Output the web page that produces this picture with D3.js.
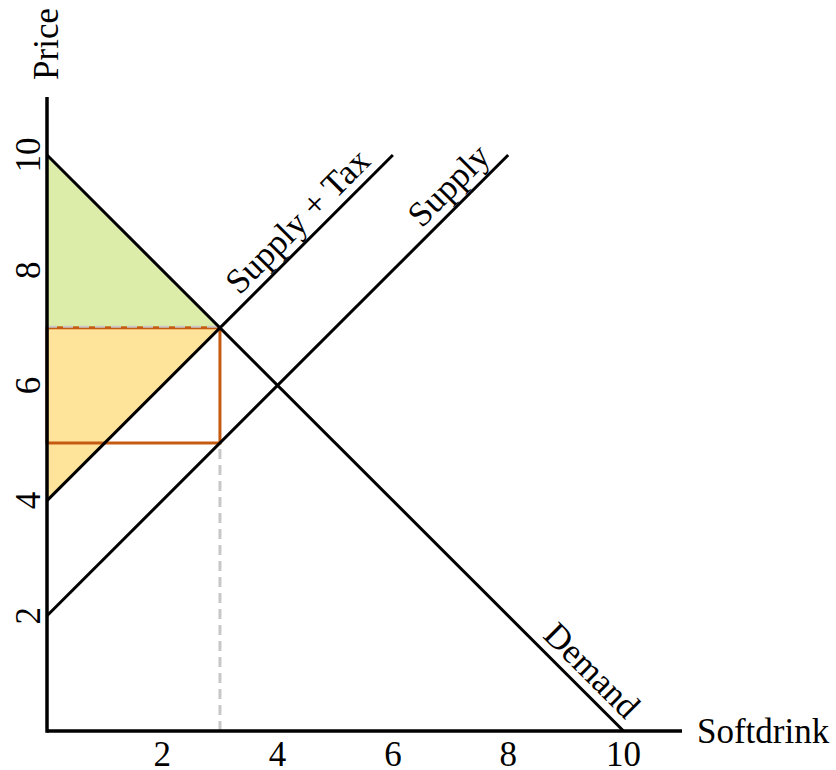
<!DOCTYPE html>
<html>
<head>
<meta charset="utf-8">
<script src="https://cdn.jsdelivr.net/npm/d3@7"></script>
<style>
  body { margin: 0; background: #fff; }
  text { font-family: "Liberation Serif", "Times New Roman", serif; fill: #000; }
</style>
</head>
<body>
<div id="chart"></div>
<script>
// data
const xTicks = [2, 4, 6, 8, 10];
const yTicks = [2, 4, 6, 8, 10];
const demand = [[0, 10], [10, 0]];
const supply = [[0, 2], [8, 10]];
const supplyTax = [[0, 4], [6, 10]];
const consumerSurplus = [[0, 10], [3, 7], [0, 7]];
const producerSurplus = [[0, 7], [3, 7], [0, 4]];
const taxBox = { x0: 0, x1: 3, y0: 5, y1: 7 };
const labels = [
    { text: "Supply + Tax", line: "tax", x: 4.6, angle: -45 },
    { text: "Supply", line: "supply", x: 7.22, angle: -45 },
    { text: "Demand", line: "demand", x: 9.2, angle: 45 }
];
const lineFns = {
    tax: x => 4 + x,
    supply: x => 2 + x,
    demand: x => 10 - x
};

const width = 836, height = 770;
const fontSize = 35;
const svg = d3.select("#chart").append("svg")
    .attr("width", width)
    .attr("height", height);

const x = d3.scaleLinear().domain([0, 10]).range([47, 623.5]);
const y = d3.scaleLinear().domain([0, 10]).range([731, 155]);

const line = d3.line().x(d => x(d[0])).y(d => y(d[1]));
const area = d3.line().x(d => x(d[0])).y(d => y(d[1])).curve(d3.curveLinearClosed);

// shaded areas
svg.append("path").datum(consumerSurplus)
    .attr("d", area)
    .attr("fill", "#dcedaa");
svg.append("path").datum(producerSurplus)
    .attr("d", area)
    .attr("fill", "#fee49a");

// tax rectangle
svg.append("rect")
    .attr("x", x(taxBox.x0))
    .attr("y", y(taxBox.y1))
    .attr("width", x(taxBox.x1) - x(taxBox.x0))
    .attr("height", y(taxBox.y0) - y(taxBox.y1))
    .attr("fill", "none")
    .attr("stroke", "#c55a11")
    .attr("stroke-width", 3);

// dashed guides
svg.append("line")
    .attr("x1", x(0)).attr("x2", x(3))
    .attr("y1", y(7) - 1).attr("y2", y(7) - 1)
    .attr("stroke", "#c8c8c8").attr("stroke-width", 2)
    .attr("stroke-dasharray", "10,6");
svg.append("line")
    .attr("x1", x(3)).attr("x2", x(3))
    .attr("y1", y(0)).attr("y2", y(5))
    .attr("stroke", "#c8c8c8").attr("stroke-width", 3)
    .attr("stroke-dasharray", "10,6");

// curves
[demand, supply, supplyTax].forEach(d => {
    svg.append("path").datum(d)
        .attr("d", line)
        .attr("fill", "none")
        .attr("stroke", "#000")
        .attr("stroke-width", 3);
});

// axes
svg.append("line")
    .attr("x1", x(0)).attr("x2", 682)
    .attr("y1", y(0)).attr("y2", y(0))
    .attr("stroke", "#000").attr("stroke-width", 3.5);
svg.append("line")
    .attr("x1", x(0)).attr("x2", x(0))
    .attr("y1", y(0) + 1.75).attr("y2", 97)
    .attr("stroke", "#000").attr("stroke-width", 3.5);

// tick labels
svg.selectAll(".xt").data(xTicks).enter().append("text")
    .attr("class", "xt")
    .attr("x", d => x(d))
    .attr("y", 766)
    .attr("text-anchor", "middle")
    .attr("font-size", fontSize)
    .text(d => d);
svg.selectAll(".yt").data(yTicks).enter().append("text")
    .attr("class", "yt")
    .attr("transform", d => `translate(40,${y(d)}) rotate(-90)`)
    .attr("text-anchor", "middle")
    .attr("font-size", fontSize)
    .text(d => d);

// axis titles
svg.append("text")
    .attr("x", 697).attr("y", 743)
    .attr("font-size", fontSize)
    .text("Softdrink");
svg.append("text")
    .attr("transform", "translate(58,44) rotate(-90)")
    .attr("text-anchor", "middle")
    .attr("font-size", fontSize)
    .text("Price");

// curve labels
labels.forEach(l => {
    const px = x(l.x), py = y(lineFns[l.line](l.x));
    svg.append("text")
        .attr("transform", `translate(${px},${py}) rotate(${l.angle})`)
        .attr("y", -9)
        .attr("text-anchor", "middle")
        .attr("font-size", fontSize)
        .text(l.text);
});
</script>
</body>
</html>
